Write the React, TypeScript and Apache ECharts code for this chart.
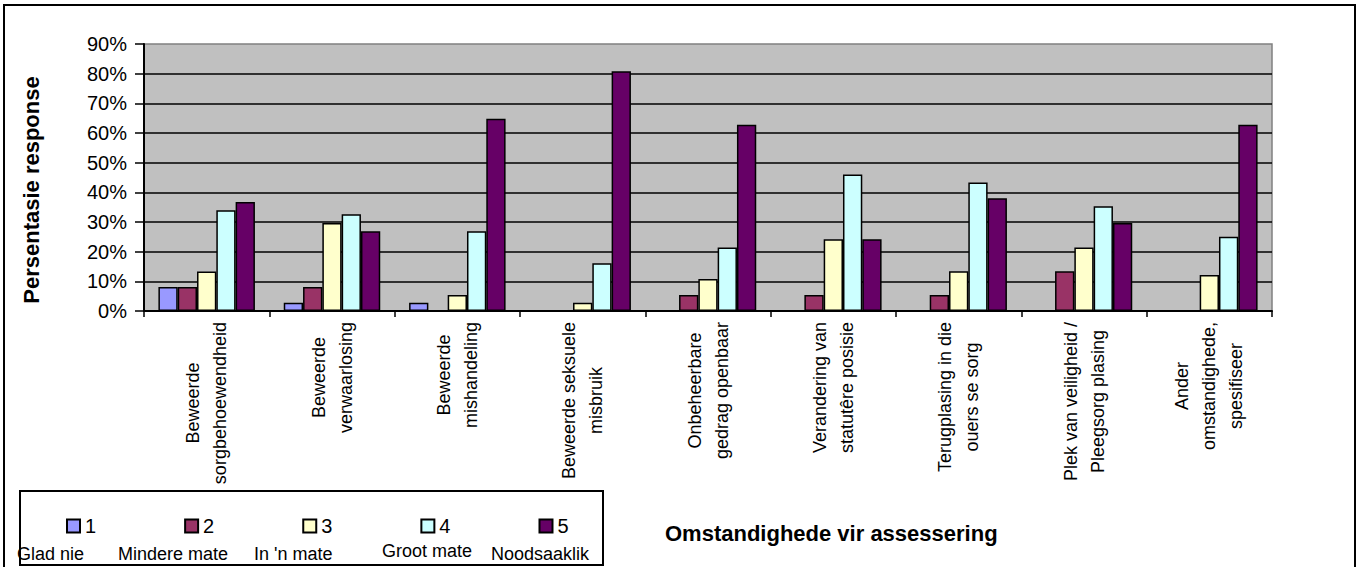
import React, { useEffect, useRef } from "react";
import * as echarts from "echarts";

const categories = [
  "Beweerde\nsorgbehoewendheid",
  "Beweerde\nverwaarlosing",
  "Beweerde\nmishandeling",
  "Beweerde seksuele\nmisbruik",
  "Onbeheerbare\ngedrag openbaar",
  "Verandering van\nstatutêre posisie",
  "Terugplasing in die\nouers se sorg",
  "Plek van veiligheid /\nPleegsorg plasing",
  "Ander\nomstandighede,\nspesifiseer",
];

const seriesNames = ["1", "2", "3", "4", "5"];
const legendNames = ["Glad nie", "Mindere mate", "In 'n mate", "Groot mate", "Noodsaaklik"];
const seriesColors = ["#9999FF", "#993366", "#FFFFCC", "#CCFFFF", "#660066"];

const s1 = [8.1, 2.8, 2.8, 0, 0, 0, 0, 0, 0];
const s2 = [8.1, 8.1, 0, 0, 5.4, 5.4, 5.4, 13.4, 0];
const s3 = [13.3, 29.7, 5.4, 2.8, 10.8, 24.2, 13.4, 21.4, 12.1];
const s4 = [34.0, 32.6, 26.9, 16.1, 21.4, 46.0, 43.3, 35.3, 25.0];
const s5 = [36.7, 26.9, 64.8, 80.8, 62.8, 24.2, 38.0, 29.7, 62.8];
const seriesData = [s1, s2, s3, s4, s5];

const yTicks = [0, 10, 20, 30, 40, 50, 60, 70, 80, 90];

const yTitle = "Persentasie response";
const xTitle = "Omstandighede vir assessering";

export default function App() {
  const ref = useRef<HTMLDivElement>(null);
  useEffect(() => {
    document.body.style.margin = "0";
    if (!ref.current) return;
    const chart = echarts.init(ref.current, null, { renderer: "svg" });
    const font = "'Liberation Sans', Arial, sans-serif";
    const legendX = [17, 118, 254, 382, 491];
    const legendY = [563, 563, 563, 560, 563];
    chart.setOption({
      animation: false,
      backgroundColor: "#ffffff",
      textStyle: { fontFamily: font },
      grid: {
        left: 144,
        right: 89,
        top: 44,
        bottom: 256,
        show: true,
        backgroundColor: "#C0C0C0",
        borderColor: "#808080",
        borderWidth: 1.5,
        containLabel: false,
        outerBoundsMode: "none",
      },
      legend: {
        data: seriesNames,
        left: 66,
        top: 516,
        padding: 0,
        itemWidth: 13,
        itemHeight: 13,
        itemGap: 88,
        icon: "rect",
        z: 10,
        textStyle: { fontFamily: font, fontSize: 20, color: "#000" },
      },
      xAxis: {
        type: "category",
        data: categories,
        axisLine: { show: true, lineStyle: { color: "#000", width: 2 } },
        axisTick: { show: true, length: 6, lineStyle: { color: "#000", width: 1.5 } },
        axisLabel: {
          interval: 0,
          rotate: 90,
          margin: 11,
          formatter: (v: string) =>
            v
              .split("\n")
              .map((l) => "{c|" + l + "}")
              .join("\n"),
          rich: {
            c: {
              align: "center",
              fontFamily: font,
              fontSize: 18,
              lineHeight: 27,
              color: "#000",
            },
          },
        },
        splitLine: { show: false },
      },
      yAxis: {
        type: "value",
        min: 0,
        max: yTicks[yTicks.length - 1],
        interval: 10,
        axisLine: { show: true, lineStyle: { color: "#000", width: 2 } },
        axisTick: { show: true, length: 9, lineStyle: { color: "#000", width: 1.5 } },
        axisLabel: {
          formatter: "{value}%",
          fontFamily: font,
          fontSize: 20,
          color: "#000",
          margin: 17,
        },
        splitLine: {
          show: true,
          showMaxLine: false,
          lineStyle: { color: "#000", width: 1.5 },
        },
      },
      series: seriesData.map((d, i) => ({
        name: seriesNames[i],
        type: "bar",
        data: d,
        barGap: "0%",
        barCategoryGap: "23%",
        itemStyle: { color: seriesColors[i], borderColor: "#000", borderWidth: 1.5 },
      })),
      graphic: [
        {
          type: "rect",
          z: 1,
          shape: { x: 4, y: 5, width: 1351, height: 580 },
          style: { fill: "none", stroke: "#000", lineWidth: 2 },
        },
        {
          type: "rect",
          z: 3,
          shape: { x: 20, y: 491, width: 583, height: 74 },
          style: { fill: "#fff", stroke: "#000", lineWidth: 2 },
        },
        {
          type: "text",
          z: 5,
          x: 31,
          y: 190,
          rotation: Math.PI / 2,
          style: {
            text: yTitle,
            font: "bold 22px 'Liberation Sans', Arial, sans-serif",
            fill: "#000",
            align: "center",
            verticalAlign: "middle",
          },
        },
        {
          type: "text",
          z: 5,
          x: 665,
          y: 533,
          style: {
            text: xTitle,
            font: "bold 22px 'Liberation Sans', Arial, sans-serif",
            fill: "#000",
            align: "left",
            verticalAlign: "middle",
          },
        },
        ...legendNames.map((n, i) => ({
          type: "text",
          z: 5,
          x: legendX[i],
          y: legendY[i],
          style: {
            text: n,
            font: "18px 'Liberation Sans', Arial, sans-serif",
            fill: "#000",
            align: "left",
            verticalAlign: "bottom",
          },
        })),
      ],
    });
    return () => chart.dispose();
  }, []);
  return <div ref={ref} style={{ width: 1361, height: 567 }} />;
}
